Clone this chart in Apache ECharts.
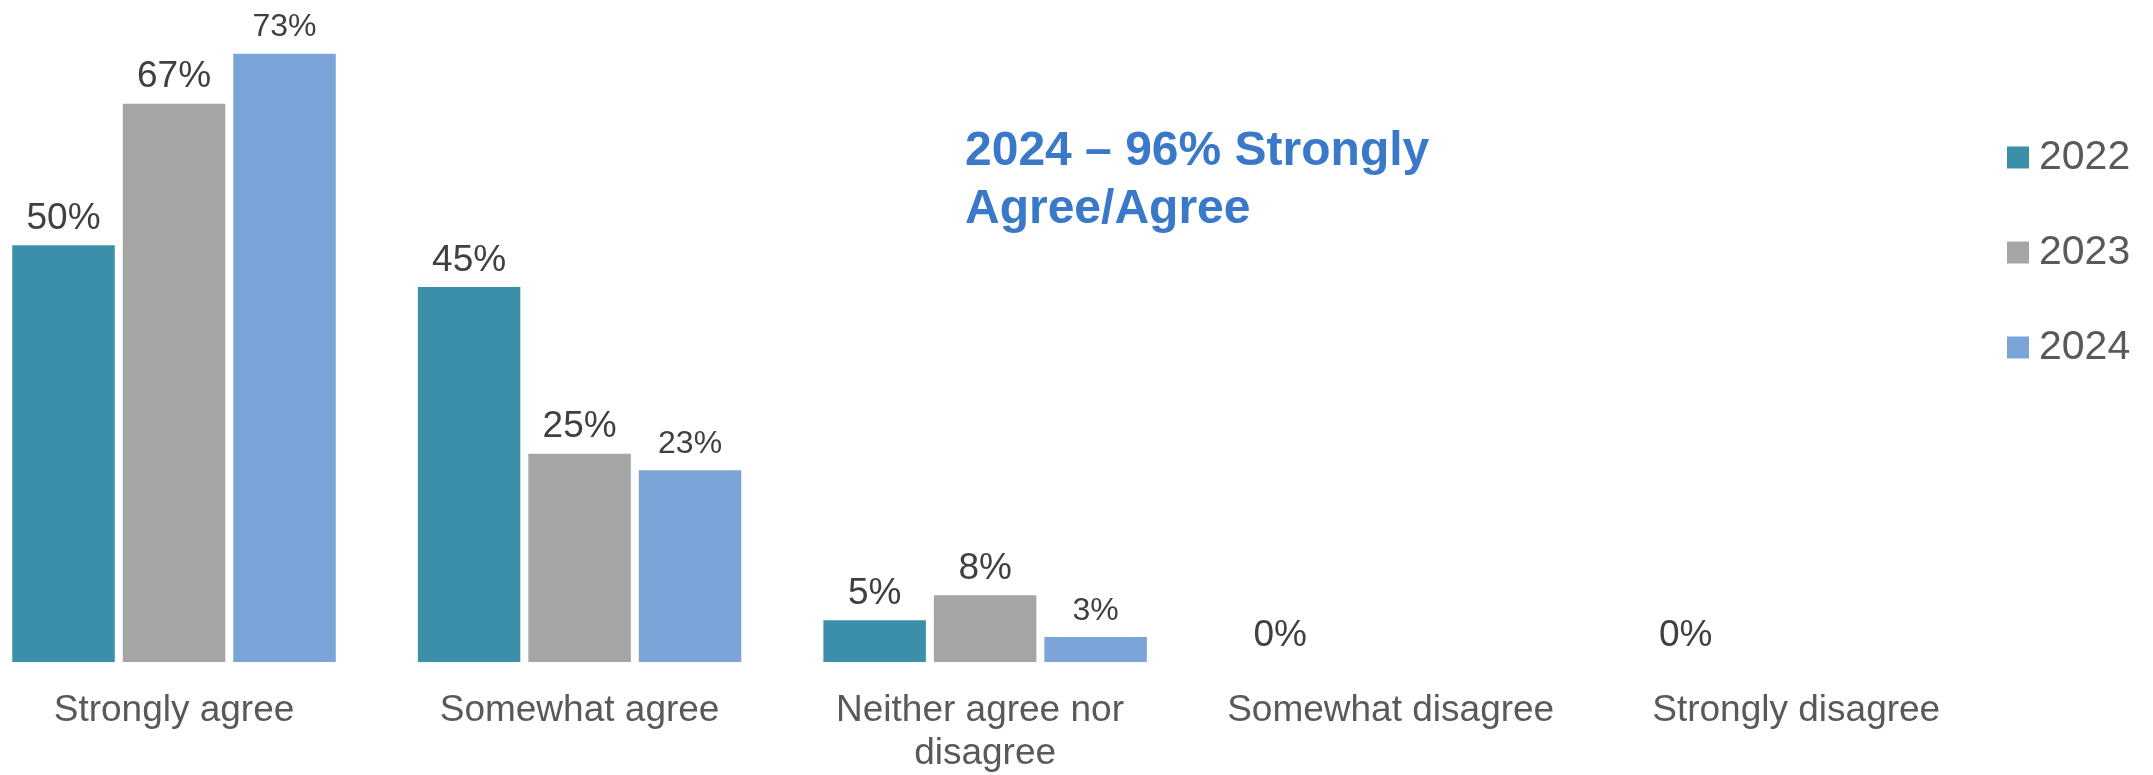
<!DOCTYPE html>
<html>
<head>
<meta charset="utf-8">
<script src="https://cdn.jsdelivr.net/npm/echarts@6/dist/echarts.min.js"></script>
<style>
  html, body { margin: 0; padding: 0; background: #ffffff; overflow: hidden; }
  body { position: relative; width: 2153px; height: 775px; }
  /* the first category band starts a little left of the page edge */
  #chart { position: absolute; left: -29px; top: 0; width: 2182px; height: 775px; }
</style>
</head>
<body>
<div id="chart"></div>
<script>
// Survey responses by year (percent of respondents)
const categories = ['Strongly agree', 'Somewhat agree', 'Neither agree nor disagree', 'Somewhat disagree', 'Strongly disagree'];
const years = ['2022', '2023', '2024'];
const values2022 = [50, 45, 5, 0, 0];
const values2023 = [67, 25, 8, null, null];
const values2024 = [73, 23, 3, null, null];
const headline = '2024 \u2013 96% Strongly\nAgree/Agree';

const colors = ['#3C8FA9', '#A5A5A5', '#7BA5D9'];
const FONT = '"Liberation Sans", Arial, sans-serif';

function barSeries(name, data, color, labelSize, labelDist) {
  return {
    name: name,
    type: 'bar',
    data: data,
    barWidth: 102.5,
    barGap: '7.8%',
    itemStyle: { color: color },
    label: {
      show: true,
      position: 'top',
      distance: labelDist,
      formatter: p => p.value + '%',
      color: '#404040',
      fontFamily: FONT,
      fontSize: labelSize,
      lineHeight: labelSize
    },
    emphasis: { disabled: true }
  };
}

const chart = echarts.init(document.getElementById('chart'), null, { renderer: 'canvas' });
chart.setOption({
  animation: false,
  backgroundColor: '#ffffff',
  grid: { left: 0.25, right: 154, top: 12, bottom: 108, containLabel: false },
  xAxis: {
    type: 'category',
    data: categories,
    axisLine: { show: false },
    axisTick: { show: false },
    axisLabel: {
      interval: 0,
      margin: 27,
      color: '#595959',
      fontFamily: FONT,
      fontSize: 37,
      lineHeight: 43,
      width: 380,
      overflow: 'break'
    }
  },
  yAxis: {
    type: 'value',
    min: 0,
    max: 78,
    show: false,
    splitLine: { show: false }
  },
  legend: {
    orient: 'vertical',
    left: 2036,
    top: 137,
    padding: 0,
    itemWidth: 22,
    itemHeight: 22,
    itemGap: 54,
    icon: 'rect',
    data: years,
    textStyle: {
      color: '#595959',
      fontFamily: FONT,
      fontSize: 41,
      lineHeight: 40,
      padding: [0, 0, 0, 5]
    }
  },
  graphic: [{
    type: 'text',
    left: 994,
    top: 123,
    style: {
      text: headline,
      fill: '#3A78C8',
      font: 'bold 48px ' + FONT,
      lineHeight: 58
    }
  }],
  series: [
    barSeries(years[0], values2022, colors[0], 37, 8),
    barSeries(years[1], values2023, colors[1], 37, 8),
    barSeries(years[2], values2024, colors[2], 32, 10)
  ]
});
</script>
</body>
</html>
